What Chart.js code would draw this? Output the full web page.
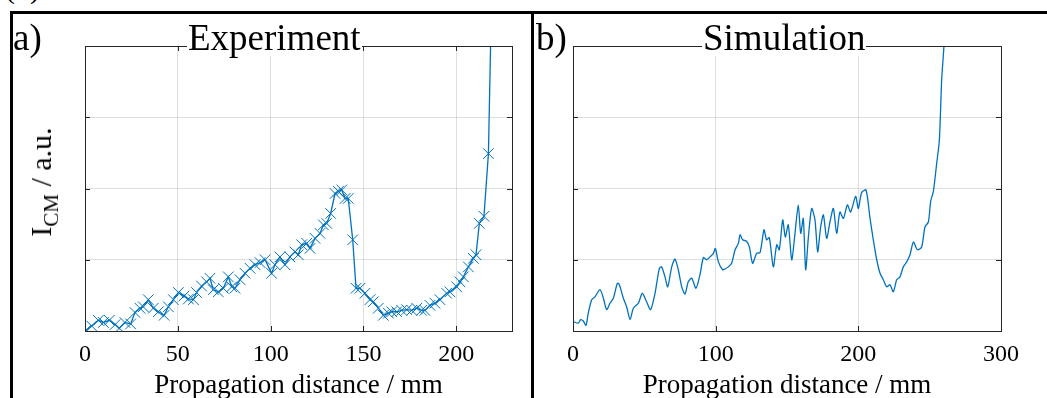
<!DOCTYPE html>
<html>
<head>
<meta charset="utf-8">
<script src="https://cdn.jsdelivr.net/npm/chart.js@4.4.1/dist/chart.umd.min.js"></script>
<style>
  body { margin: 0; width: 1047px; height: 398px; overflow: hidden; background: #fff; font-family: 'Liberation Serif', serif; }
  .panel { position: absolute; top: 0; height: 420px; }
  .frame { position: absolute; background: #000; }
  .txt { position: absolute; font-size: 37px; line-height: 1; color: #000; white-space: nowrap; }
  .ttl { background: #fff; padding: 0 1px; }
  .ylab { position: absolute; font-size: 30px; line-height: 1; white-space: nowrap; transform: translate(-50%, -50%) rotate(-90deg); }
  .ylab sub { font-size: 21px; }
</style>
</head>
<body>
<div class="txt" style="left:5px; top:-27px; font-size:30px;">(b)</div>

<div class="panel" style="left:0; width:532px;"><canvas id="expChart" width="532" height="420"></canvas></div>
<div class="panel" style="left:532px; width:515px;"><canvas id="simChart" width="515" height="420"></canvas></div>

<!-- outer black frame -->
<div class="frame" style="left:10px; top:11px; width:1037px; height:3px;"></div>
<div class="frame" style="left:10px; top:11px; width:3px; height:387px;"></div>
<div class="frame" style="left:531px; top:11px; width:3px; height:387px;"></div>

<div class="txt" style="left:13px; top:19px;">a)</div>
<div class="txt ttl" style="left:187px; top:19px;">Experiment</div>
<div class="txt" style="left:536px; top:19px;">b)</div>
<div class="txt ttl" style="left:702px; top:19px;">Simulation</div>
<div class="ylab" style="left:44px; top:182px;">I<sub>CM</sub> / a.u.</div>

<script>
// experiment: propagation distance (mm) and I_CM (a.u.)
const expX = [0.5, 3.6, 7.2, 9.9, 13.1, 16.2, 18.5, 21.5, 24.6, 26.9, 29.6, 31.4, 34.1, 36.8, 39.5, 42.6, 44.9, 47.6,
  50.3, 53.3, 55.7, 58.4, 60.1, 62.8, 65.5, 67.3, 69.1, 71.8, 74.5, 77.2, 79.0, 80.8, 83.5, 86.2, 88.9, 91.6, 94.3,
  97.0, 100.5, 102.3, 105.0, 107.7, 110.4, 113.1, 114.9, 116.7, 119.4, 121.2, 123.9, 126.6, 128.4, 130.2, 132.3,
  134.7, 136.5, 138.3, 140.1, 141.8, 144.2, 146.0, 148.1, 150.8, 153.5, 155.3, 158.0, 160.7, 163.4, 165.2, 167.9,
  170.6, 173.3, 176.0, 178.7, 181.3, 183.1, 185.8, 188.5, 191.2, 194.8, 196.6, 200.2, 202.0, 203.8, 206.5, 209.2,
  210.6, 212.4, 214.9, 217.3, 220.0];
const expY = [0.01, 0.07, 0.15, 0.12, 0.15, 0.09, 0.04, 0.12, 0.10, 0.26, 0.32, 0.34, 0.44, 0.32, 0.27, 0.22, 0.34, 0.44,
  0.54, 0.49, 0.45, 0.44, 0.54, 0.63, 0.69, 0.74, 0.58, 0.55, 0.60, 0.76, 0.62, 0.60, 0.72, 0.81, 0.88, 0.93, 0.96,
  1.00, 0.81, 0.93, 1.04, 0.93, 1.04, 1.11, 1.07, 1.21, 1.23, 1.16, 1.30, 1.37, 1.49, 1.51, 1.65,
  1.93, 1.96, 1.98, 1.86, 1.86, 1.28, 0.60, 0.60, 0.53, 0.44, 0.41, 0.32, 0.22, 0.25, 0.27, 0.27,
  0.29, 0.30, 0.29, 0.32, 0.29, 0.29, 0.36, 0.39, 0.44, 0.53, 0.55, 0.62, 0.69, 0.76, 0.90, 1.02,
  1.07, 1.51, 1.61, 2.49, 6.0];

// simulation
const simX = [0.2, 3.7, 5.4, 7.2, 9.1, 10.7, 13.1, 15.4, 18.9, 21.3, 23.6, 25.9, 28.3, 31.1, 32.5, 35.3, 37.6, 40.0,
  42.3, 45.8, 48.6, 51.6, 54.4, 57.5, 60.5, 62.1, 64.5, 66.4, 69.2, 71.5, 73.8, 76.2, 78.5, 80.8, 83.2, 86.2, 89.0,
  91.4, 93.7, 96.0, 98.4, 99.8, 101.9, 104.9, 106.5, 108.9, 111.2, 113.6, 115.9, 117.1, 118.9, 121.7, 123.6, 125.9,
  128.7, 131.1, 133.9, 135.7, 137.6, 140.4, 142.8, 144.6, 147.0, 148.8, 150.9, 153.3, 155.6, 157.9, 159.6, 161.4,
  163.1, 165.0, 167.3, 169.6, 171.5, 173.6, 175.5, 177.8, 180.1, 182.5, 184.8, 187.1, 189.5, 192.3, 194.6, 198.1,
  200.0, 202.3, 205.4, 208.2, 210.5, 212.9, 215.2, 217.5, 219.9, 222.2, 224.5, 226.9, 229.2, 231.5, 233.9, 236.2,
  238.6, 241.4, 244.4, 246.7, 249.1, 250.7, 252.6, 254.9, 256.8, 258.4, 260.0, 262.0];
const simY = [0.13, 0.11, 0.16, 0.14, 0.08, 0.25, 0.44, 0.48, 0.58, 0.46, 0.30, 0.39, 0.46, 0.67, 0.65, 0.46, 0.34, 0.16,
  0.32, 0.39, 0.53, 0.41, 0.30, 0.53, 0.88, 0.90, 0.76, 0.62, 0.90, 1.01, 0.86, 0.62, 0.52, 0.69, 0.74, 0.60, 0.79,
  1.03, 1.00, 1.04, 1.09, 1.16, 0.97, 0.86, 0.87, 0.90, 0.95, 1.14, 1.23, 1.35, 1.28, 1.26, 1.18, 0.95,
  1.09, 1.10, 1.42, 1.28, 1.31, 0.90, 1.21, 1.14, 1.56, 1.32, 1.49, 1.00, 1.37, 1.77, 1.37, 1.58,
  0.86, 1.32, 1.72, 1.56, 1.11, 1.46, 1.63, 1.30, 1.53, 1.72, 1.37, 1.67, 1.58, 1.77, 1.67, 1.89,
  1.72, 1.94, 1.98, 1.58, 1.28, 1.00, 0.81, 0.72, 0.62, 0.65, 0.55, 0.72, 0.76, 0.90, 0.97, 1.07,
  1.25, 1.14, 1.18, 1.46, 1.53, 1.82, 1.96, 2.35, 2.68, 3.52, 4.0, 5.0];

const expTicks = [0, 50, 100, 150, 200];
const simTicks = [0, 100, 200, 300];
const yTicks = [0, 1, 2, 3, 4];

const blue = '#0072BD';
const axisColor = '#262626';

// box + inward tick marks, like a MATLAB axes
const boxPlugin = {
  id: 'box',
  afterDraw(chart) {
    const { ctx, chartArea: a, scales: { x, y } } = chart;
    ctx.save();
    ctx.strokeStyle = axisColor;
    ctx.lineWidth = 1;
    ctx.beginPath();
    x.ticks.forEach(t => {
      const px = Math.round(x.getPixelForValue(t.value)) + 0.5;
      ctx.moveTo(px, a.bottom); ctx.lineTo(px, a.bottom - 5);
      ctx.moveTo(px, a.top); ctx.lineTo(px, a.top + 5);
    });
    y.ticks.forEach(t => {
      const py = Math.round(y.getPixelForValue(t.value)) + 0.5;
      ctx.moveTo(a.left, py); ctx.lineTo(a.left + 5, py);
      ctx.moveTo(a.right, py); ctx.lineTo(a.right - 5, py);
    });
    ctx.stroke();
    ctx.strokeRect(Math.round(a.left) + 0.5, Math.round(a.top) + 0.5,
      Math.round(a.right - a.left), Math.round(a.bottom - a.top));
    ctx.restore();
  }
};

function makePanel(id, xs, ys, xMax, xTicks, yWidth, rightPad, markers) {
  return new Chart(document.getElementById(id), {
    type: 'scatter',
    data: {
      datasets: [{
        data: xs.map((v, i) => ({ x: v, y: ys[i] })),
        showLine: true,
        borderColor: blue,
        borderWidth: 1.3,
        pointStyle: 'crossRot',
        pointRadius: markers ? 7.5 : 0,
        pointBorderColor: blue,
        pointBorderWidth: 1,
        tension: markers ? 0 : 0.25
      }]
    },
    options: {
      responsive: false,
      devicePixelRatio: 1,
      animation: false,
      layout: { padding: { top: 46, right: rightPad, left: 0, bottom: 0 } },
      plugins: { legend: { display: false }, tooltip: { enabled: false } },
      scales: {
        x: {
          type: 'linear',
          min: 0,
          max: xMax,
          afterBuildTicks: s => { s.ticks = xTicks.map(v => ({ value: v })); },
          afterFit: s => { s.height = 89; },
          border: { display: false },
          grid: { color: 'rgba(38,38,38,0.15)', drawTicks: false },
          ticks: { padding: 9, color: '#000', font: { family: 'Liberation Serif', size: 24 } },
          title: {
            display: true,
            text: 'Propagation distance / mm',
            color: '#000',
            font: { family: 'Liberation Serif', size: 27 },
            padding: { top: 0, bottom: 18 }
          }
        },
        y: {
          min: 0,
          max: 4,
          afterBuildTicks: s => { s.ticks = yTicks.map(v => ({ value: v })); },
          afterFit: s => { s.width = yWidth; },
          border: { display: false },
          grid: { color: 'rgba(38,38,38,0.15)', drawTicks: false },
          ticks: { display: false }
        }
      }
    },
    plugins: [boxPlugin]
  });
}

makePanel('expChart', expX, expY, 230, expTicks, 85, 20, true);
makePanel('simChart', simX, simY, 300, simTicks, 41, 46, false);
</script>
</body>
</html>
